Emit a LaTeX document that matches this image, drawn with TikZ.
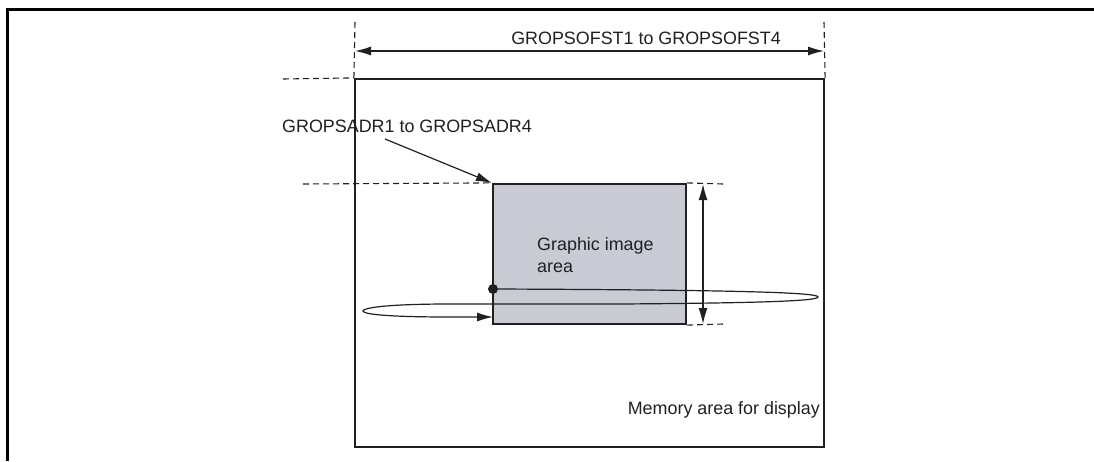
\documentclass[tikz,border=0pt]{standalone}
\usepackage{fontspec}
\setmainfont{Liberation Sans}
\usetikzlibrary{arrows.meta}
\definecolor{ink}{HTML}{231F20}
\definecolor{gfxfill}{HTML}{C8CBD3}
\begin{document}
\begin{tikzpicture}[x=1pt,y=-1pt,
  lbl/.style={font=\fontsize{17.9}{22}\selectfont, text=ink, inner sep=0pt},
  dimline/.style={draw=ink, line width=1.1pt, dash pattern=on 6pt off 4pt},
  conn/.style={draw=ink, line width=1.2pt},
  tip/.style={-{Latex[length=16pt,width=9pt]}},
  bitip/.style={{Latex[length=16pt,width=9pt]}-{Latex[length=16pt,width=9pt]}},
  area/.style={draw=ink, line width=2.2pt, inner sep=0pt}]
\useasboundingbox (0,0) rectangle (1094,461);
% outer frame (top and left)
\draw[black, line width=3pt] (7,461) -- (7,9) -- (1094,9);
% memory area
\node[area, minimum width=469pt, minimum height=368pt] (mem) at (589.5,263) {};
% graphic image area
\node[area, fill=gfxfill, minimum width=193pt, minimum height=140pt] (gfx) at (589.5,254) {};
\node[lbl, align=left, anchor=north west] (gtxt) at (537,237) {Graphic image\\area};
\node[lbl, anchor=base east] (memtxt) at (820,414) {Memory area for display};
% offset dimension
\coordinate (o1) at (355,22);
\coordinate (o2) at (824,22);
\draw[dimline] (o1) -- (mem.north west);
\draw[dimline] (o2) -- (mem.north east);
\coordinate (oa) at (355,51);
\coordinate (ob) at (824,51);
\draw[conn, bitip] (oa) -- (ob);
\node[lbl, anchor=base east] (ofst) at (781,44) {GROPSOFST1 to GROPSOFST4};
\coordinate (m0) at (283,79);
\draw[dimline] (m0) -- (mem.north west);
% address label
\node[lbl, anchor=base west] (adr) at (282,132) {GROPSADR1 to GROPSADR4};
\coordinate (a0) at (385,139);
\draw[conn, tip] (a0) -- (gfx.north west);
\coordinate (g0) at (303,184);
\draw[dimline] (g0) -- (gfx.north west);
% height dimension
\coordinate (h1) at (723,184);
\coordinate (h2) at (723,324);
\draw[dimline] (gfx.north east) -- (h1);
\draw[dimline] (gfx.south east) -- (h2);
\coordinate (va) at (703,184);
\coordinate (vb) at (703,324);
\draw[conn, bitip] (va) -- (vb);
% scan loop
\coordinate (dot) at (493,289);
\coordinate (end) at (493,317);
\fill[ink] (dot) circle (5pt);
\draw[conn, tip] (dot) .. controls (760,290) and (818,293) .. (818,297)
  .. controls (818,301) and (760,303) .. (620,304) -- (450,304)
  .. controls (385,304) and (363,308) .. (363,311)
  .. controls (363,314) and (385,317) .. (450,317) -- (end);
\end{tikzpicture}
\end{document}
